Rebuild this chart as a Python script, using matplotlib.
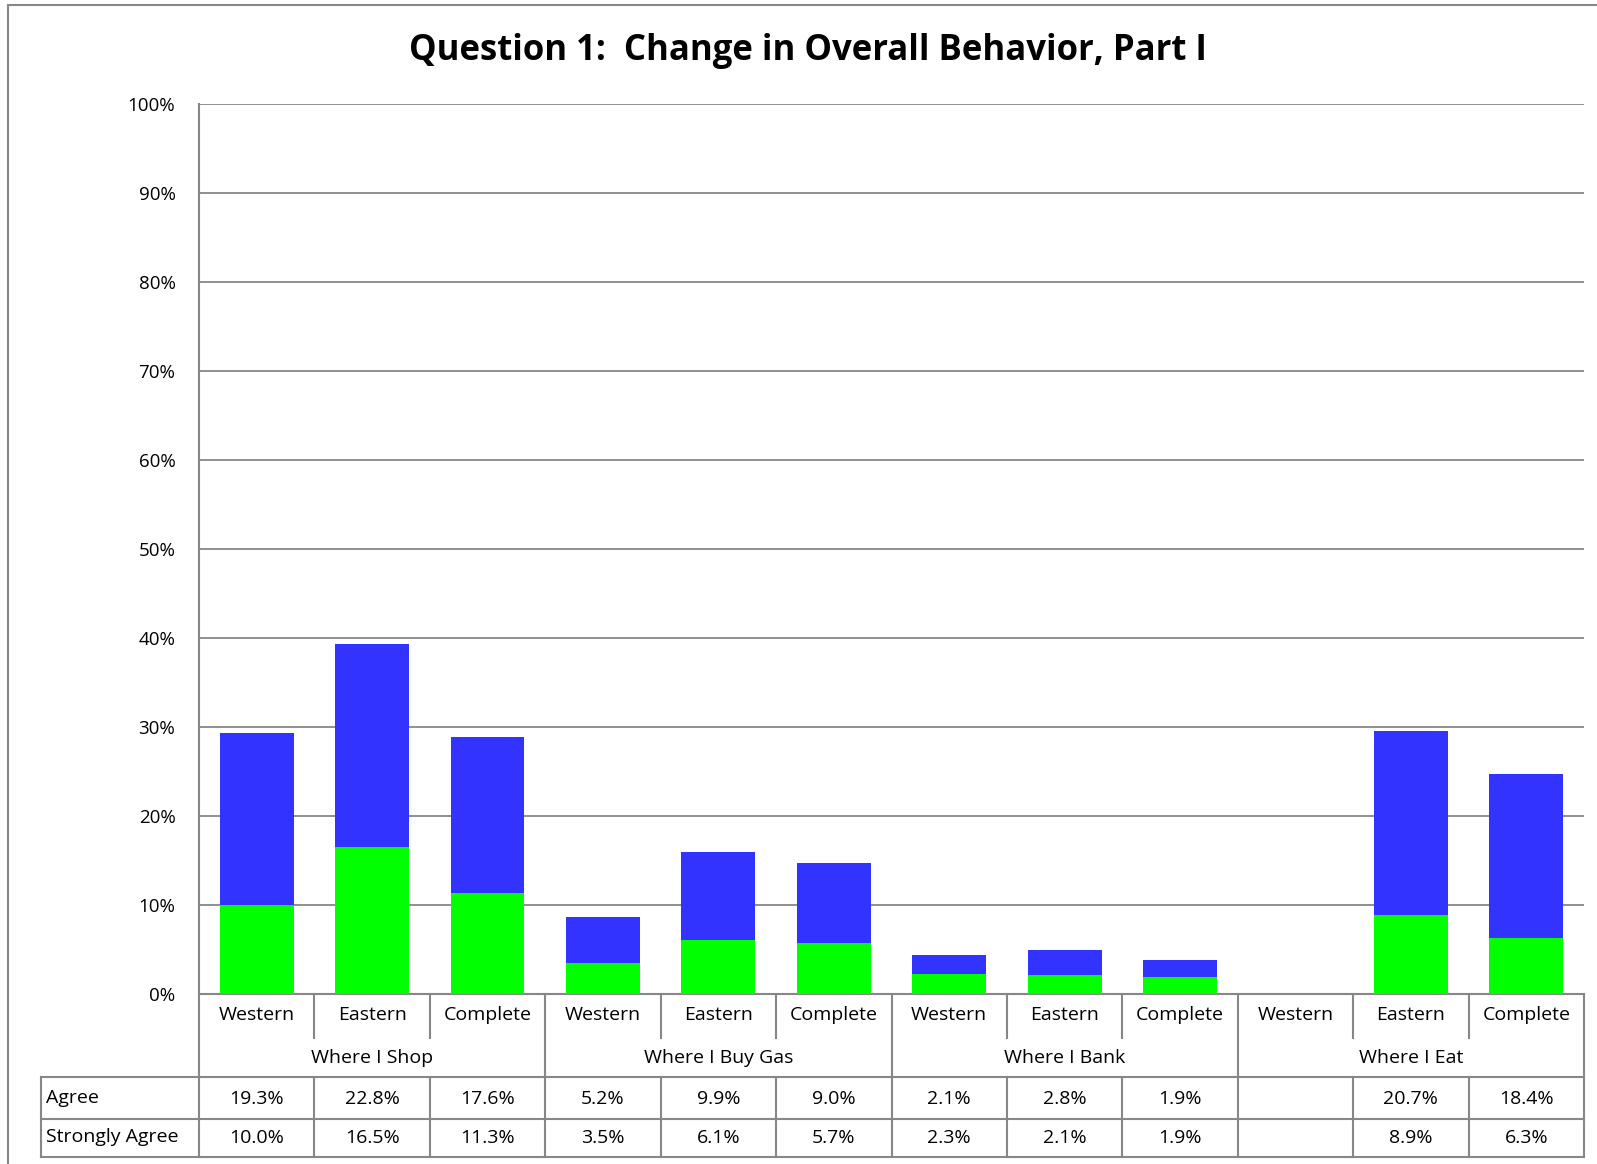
import matplotlib.pyplot as plt
from matplotlib.lines import Line2D
from matplotlib.patches import Rectangle
from matplotlib.ticker import PercentFormatter
import numpy as np

plt.rcParams['font.family'] = ['Open Sans', 'DejaVu Sans']

# data
groups = ['Where I Shop', 'Where I Buy Gas', 'Where I Bank', 'Where I Eat']
regions = ['Western', 'Eastern', 'Complete']
agree = [19.3, 22.8, 17.6, 5.2, 9.9, 9.0, 2.1, 2.8, 1.9, np.nan, 20.7, 18.4]
strongly_agree = [10.0, 16.5, 11.3, 3.5, 6.1, 5.7, 2.3, 2.1, 1.9, np.nan, 8.9, 6.3]

W, H = 1597, 1164
LEFT, RIGHT, TOP, BOTTOM = 199, 1584, 104, 994
GRID = '#878787'


def fx(px):
    return px / W


def fy(py):
    return 1 - py / H


fig = plt.figure(figsize=(W / 100, H / 100), dpi=100)
fig.patch.set_facecolor('white')

# outer chart border
fig.add_artist(Rectangle((fx(8), fy(1200)), fx(1620) - fx(8), fy(5) - fy(1200),
                         transform=fig.transFigure, fill=False,
                         edgecolor=GRID, linewidth=1.5))

ax = fig.add_axes([fx(LEFT), fy(BOTTOM), fx(RIGHT) - fx(LEFT), (BOTTOM - TOP) / H])

x = np.arange(len(agree))
sa = np.nan_to_num(np.array(strongly_agree))
ag = np.nan_to_num(np.array(agree))
ax.bar(x, sa, width=0.64, color='#00ff00', zorder=3)
ax.bar(x, ag, width=0.64, bottom=sa, color='#3333ff', zorder=3)

ax.set_xlim(-0.5, len(agree) - 0.5)
ax.set_ylim(0, 100)
ax.set_yticks(np.arange(0, 101, 10))
ax.yaxis.set_major_formatter(PercentFormatter(decimals=0))
ax.set_xticks([])
ax.tick_params(axis='y', length=0, pad=17, labelsize=13.5)
ax.yaxis.grid(True, color=GRID, linewidth=1.3)
ax.set_axisbelow(True)
for side in ['top', 'right']:
    ax.spines[side].set_visible(False)
for side in ['left', 'bottom']:
    ax.spines[side].set_color(GRID)
    ax.spines[side].set_linewidth(1.5)

fig.text(fx(808), fy(51), 'Question 1:  Change in Overall Behavior, Part I',
         ha='center', va='center', fontsize=25, fontweight='bold')

# data table below the axis
slot = (RIGHT - LEFT) / len(agree)


def line(x0, y0, x1, y1):
    fig.add_artist(Line2D([fx(x0), fx(x1)], [fy(y0), fy(y1)],
                          transform=fig.transFigure, color=GRID, linewidth=1.5))


ROW_CAT, ROW_GRP, ROW_AG, ROW_SA = 1038, 1077, 1119, 1157
TAB_LEFT = 41

line(LEFT, BOTTOM, LEFT, ROW_SA)
line(RIGHT, BOTTOM, RIGHT, ROW_SA)
line(TAB_LEFT, ROW_GRP, RIGHT, ROW_GRP)
line(TAB_LEFT, ROW_AG, RIGHT, ROW_AG)
line(TAB_LEFT, ROW_SA, RIGHT, ROW_SA)
line(TAB_LEFT, ROW_GRP, TAB_LEFT, ROW_SA)

for i in range(1, len(agree)):
    xb = LEFT + i * slot
    if i % 3 == 0:
        line(xb, BOTTOM, xb, ROW_SA)
    else:
        line(xb, BOTTOM, xb, ROW_CAT)
        line(xb, ROW_GRP, xb, ROW_SA)

FS = 14
for i in range(len(agree)):
    xc = LEFT + (i + 0.5) * slot
    fig.text(fx(xc), fy(1015), regions[i % 3], ha='center', va='center', fontsize=FS)
    if not np.isnan(agree[i]):
        fig.text(fx(xc), fy(1099), f'{agree[i]:.1f}%', ha='center', va='center', fontsize=FS)
        fig.text(fx(xc), fy(1138), f'{strongly_agree[i]:.1f}%', ha='center', va='center', fontsize=FS)

for g, name in enumerate(groups):
    xc = LEFT + (g * 3 + 1.5) * slot
    fig.text(fx(xc), fy(1058), name, ha='center', va='center', fontsize=FS)

fig.text(fx(TAB_LEFT + 5), fy(1098), 'Agree', ha='left', va='center', fontsize=FS)
fig.text(fx(TAB_LEFT + 5), fy(1137), 'Strongly Agree', ha='left', va='center', fontsize=FS)

plt.savefig('out.png', dpi=100)
